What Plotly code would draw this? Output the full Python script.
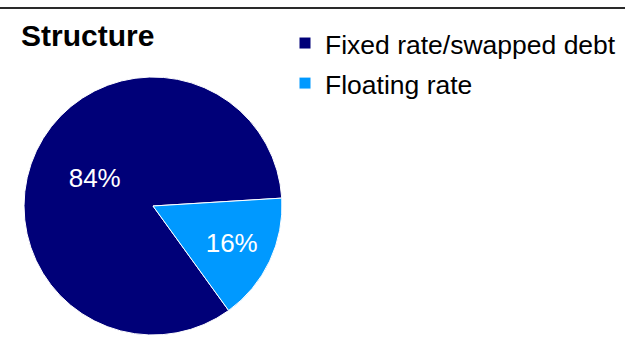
import plotly.graph_objects as go

labels = ["Fixed rate/swapped debt", "Floating rate"]
values = [84, 16]
colors = ["#000078", "#0099FF"]
title_text = "Structure"

W, H = 625, 362
FONT = "Arial, 'Liberation Sans', Helvetica, sans-serif"

# legend text shown at 26.5px while the row height is driven by the base legend font
legend_labels = ['<span style="font-size:26.5px">' + s + "</span>" for s in labels]

fig = go.Figure()
fig.add_trace(go.Pie(
    labels=legend_labels,
    values=values,
    sort=False,
    direction="clockwise",
    rotation=144.1,
    marker=dict(colors=colors, line=dict(color="white", width=1)),
    textinfo="percent",
    texttemplate="%{percent:.0%}",
    textposition="inside",
    insidetextorientation="horizontal",
    insidetextfont=dict(color="white", size=26, family=FONT),
    domain=dict(x=[24 / W, 282 / W], y=[1 - 335 / H, 1 - 77 / H]),
    hoverinfo="percent",
))

fig.add_annotation(
    text="<b>" + title_text + "</b>",
    xref="paper", yref="paper",
    x=19 / W, y=1 - 36 / H,
    xanchor="left", yanchor="middle",
    showarrow=False,
    font=dict(size=30, color="black", family=FONT),
)

fig.add_shape(
    type="line", xref="paper", yref="paper",
    x0=0, x1=1, y0=1 - 8 / H, y1=1 - 8 / H,
    line=dict(color="#2a2a2a", width=2),
)

fig.update_layout(
    width=W, height=H,
    margin=dict(l=0, r=0, t=0, b=0),
    paper_bgcolor="white",
    plot_bgcolor="white",
    showlegend=True,
    legend=dict(
        x=285 / W, y=1 - 18 / H,
        xanchor="left", yanchor="top",
        font=dict(size=28.5, color="black", family=FONT),
        bgcolor="rgba(0,0,0,0)",
        borderwidth=0,
        tracegroupgap=0,
    ),
    font=dict(family=FONT),
)

fig.write_html("out.html")
